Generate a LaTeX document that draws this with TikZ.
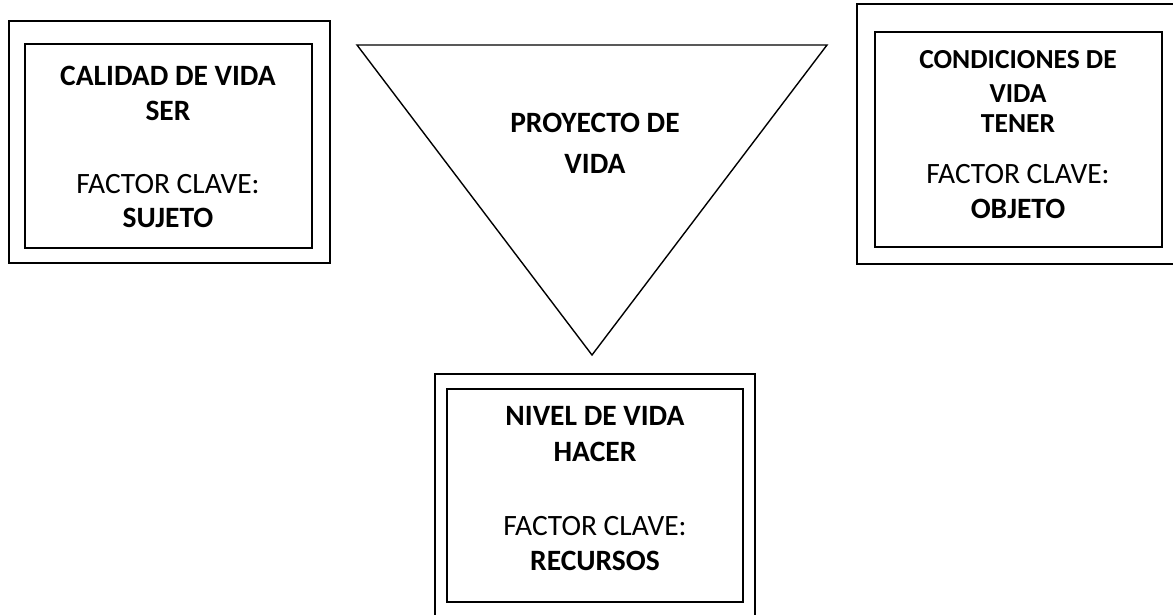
\documentclass[tikz,border=0pt]{standalone}
\usepackage{fontspec}
\setmainfont{Carlito}
\begin{document}
\begin{tikzpicture}[x=1pt,y=-1pt,
  frame/.style={draw, line width=1.4pt, inner sep=0pt, minimum width=#1},
  line/.style={draw, line width=1.4pt, line join=miter},
  bt/.style={font=\fontsize{29.5}{34}\selectfont\bfseries, anchor=base, inner sep=0pt},
  st/.style={font=\fontsize{27.5}{30}\selectfont\bfseries, anchor=base, inner sep=0pt},
  rt/.style={font=\fontsize{29.5}{34}\selectfont, anchor=base, inner sep=0pt}]
\useasboundingbox (0,0) rectangle (1173,614);
% left box
\node[frame=321pt, minimum height=242pt] (Lout) at (169.5,142) {};
\node[frame=287pt, minimum height=204pt] (Lin) at (168.5,146) {};
\node[bt] (L1) at (168,85) {CALIDAD DE VIDA};
\node[bt] (L2) at (168,120) {SER};
\node[rt] (L3) at (168,193) {FACTOR CLAVE:};
\node[bt] (L4) at (168,227) {SUJETO};
% right box (outer frame runs past the right edge)
\coordinate (Ra) at (1190,4);
\coordinate (Rb) at (857,4);
\coordinate (Rc) at (857,264);
\coordinate (Rd) at (1190,264);
\draw[line] (Ra) -- (Rb) -- (Rc) -- (Rd);
\node[frame=287pt, minimum height=215pt] (Rin) at (1018.5,139.5) {};
\node[st] (R1) at (1018,68) {CONDICIONES DE};
\node[st] (R2) at (1018,102) {VIDA};
\node[st] (R3) at (1018,132) {TENER};
\node[rt] (R4) at (1018,183) {FACTOR CLAVE:};
\node[bt] (R5) at (1018,218) {OBJETO};
% bottom box (outer frame runs past the bottom edge)
\coordinate (Ba) at (435,630);
\coordinate (Bb) at (435,374);
\coordinate (Bc) at (755,374);
\coordinate (Bd) at (755,630);
\draw[line] (Ba) -- (Bb) -- (Bc) -- (Bd);
\node[frame=296pt, minimum height=213pt] (Bin) at (595,495.5) {};
\node[bt] (B1) at (595,425) {NIVEL DE VIDA};
\node[bt] (B2) at (595,461) {HACER};
\node[rt] (B3) at (595,535) {FACTOR CLAVE:};
\node[bt] (B4) at (595,570) {RECURSOS};
% triangle
\coordinate (T1) at (357,45);
\coordinate (T2) at (827,45);
\coordinate (T3) at (592,355);
\draw[line] (T1) -- (T2) -- (T3) -- cycle;
\node[bt] (P1) at (595,132) {PROYECTO DE};
\node[bt] (P2) at (595,173) {VIDA};
\end{tikzpicture}
\end{document}
